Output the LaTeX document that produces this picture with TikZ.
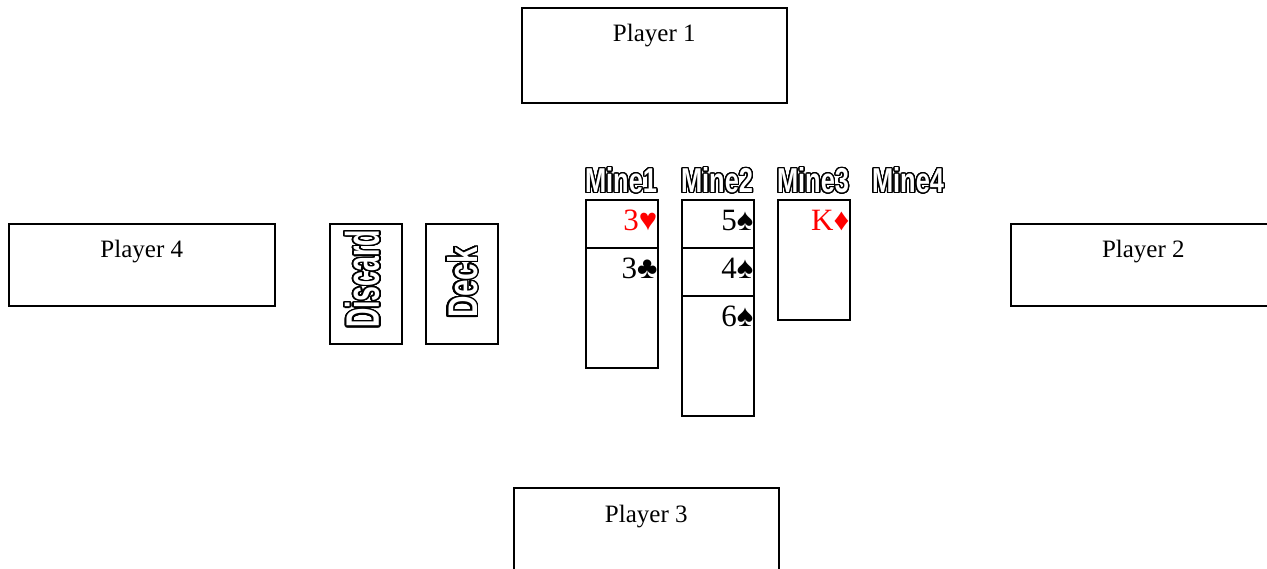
\documentclass[tikz,border=0pt]{standalone}
\usepackage{fontspec}
\setmainfont{Liberation Serif}
\newfontfamily\minefont[FakeStretch=0.75]{Liberation Sans}
\usepackage{contour}
\contourlength{1.1pt}
\contournumber{32}
\usepackage{graphicx}
\newcommand{\outltext}[1]{{\color{white}\contour{black}{#1}}}
\newcommand{\fancylabel}[3]{\resizebox{#2}{#3}{\minefont\bfseries\fontsize{30}{30}\selectfont\outltext{#1}}}
\begin{document}
\begin{tikzpicture}[x=1pt,y=-1pt,
  pbox/.style={draw=black,line width=1.6pt,fill=white,minimum width=265pt,inner sep=0pt,anchor=north west},
  ptext/.style={font=\fontsize{25}{25}\selectfont,inner sep=0pt,anchor=base},
  card/.style={draw=black,line width=1.6pt,fill=white,minimum width=72pt,minimum height=120pt,inner sep=0pt,anchor=north west},
  cardtext/.style={font=\fontsize{31}{31}\selectfont,inner sep=0pt,anchor=base east},
  fancy/.style={inner sep=0pt,anchor=center}
]
\useasboundingbox (0,0) rectangle (1267,569);

% players
\node[pbox,minimum height=95pt] (p1) at (521,7) {};
\node[ptext] (p1t) at ([yshift=-35pt]p1.north) {Player 1};
\node[pbox,minimum height=82pt,minimum width=266pt] (p4) at (8,223) {};
\node[ptext] (p4t) at ([yshift=-35pt]p4.north) {Player 4};
\node[pbox,minimum height=82pt] (p2) at (1010,223) {};
\node[ptext] (p2t) at ([yshift=-35pt]p2.north) {Player 2};
\node[pbox,minimum height=96pt] (p3) at (513,487) {};
\node[ptext] (p3t) at ([yshift=-35pt]p3.north) {Player 3};

% discard and deck
\node[card] (discard) at (329,223) {};
\node[fancy,rotate=90] (discardt) at (363,279) {\fancylabel{Discard}{98pt}{34pt}};
\node[card] (deck) at (425,223) {};
\node[fancy,rotate=90] (deckt) at (463,282.5) {\fancylabel{Deck}{71pt}{30pt}};

% mine labels
\node[fancy] (m1) at (621,181) {\fancylabel{Mine1}{72pt}{25pt}};
\node[fancy] (m2) at (717,181) {\fancylabel{Mine2}{72pt}{25pt}};
\node[fancy] (m3) at (813,181) {\fancylabel{Mine3}{72pt}{25pt}};
\node[fancy] (m4) at (908,181) {\fancylabel{Mine4}{72pt}{25pt}};

% Mine1 column
\node[card] (c11) at (585,199) {};
\node[cardtext,text=red] (c11t) at ([xshift=-1pt,yshift=-32pt]c11.north east) {3♥};
\node[card] (c12) at (585,247) {};
\node[cardtext] (c12t) at ([xshift=-1pt,yshift=-32pt]c12.north east) {3♣};

% Mine2 column
\node[card] (c21) at (681,199) {};
\node[cardtext] (c21t) at ([xshift=-1pt,yshift=-32pt]c21.north east) {5♠};
\node[card] (c22) at (681,247) {};
\node[cardtext] (c22t) at ([xshift=-1pt,yshift=-32pt]c22.north east) {4♠};
\node[card] (c23) at (681,295) {};
\node[cardtext] (c23t) at ([xshift=-1pt,yshift=-32pt]c23.north east) {6♠};

% Mine3 column
\node[card] (c31) at (777,199) {};
\node[cardtext,text=red] (c31t) at ([xshift=-1pt,yshift=-32pt]c31.north east) {K♦};
\end{tikzpicture}
\end{document}
